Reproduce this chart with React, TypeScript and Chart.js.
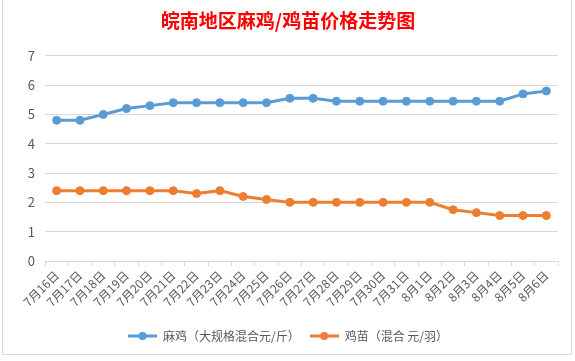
import React, { useEffect, useRef } from "react";
import { Chart, registerables } from "chart.js";

Chart.register(...registerables);

const TITLE = "皖南地区麻鸡/鸡苗价格走势图";
const CATEGORIES = [
  "7月16日", "7月17日", "7月18日", "7月19日", "7月20日", "7月21日", "7月22日", "7月23日",
  "7月24日", "7月25日", "7月26日", "7月27日", "7月28日", "7月29日", "7月30日", "7月31日",
  "8月1日", "8月2日", "8月3日", "8月4日", "8月5日", "8月6日",
];
const SERIES_NAMES = ["麻鸡（大规格混合元/斤）", "鸡苗（混合 元/羽）"];
const MAJI = [4.8, 4.8, 5.0, 5.2, 5.3, 5.4, 5.4, 5.4, 5.4, 5.4, 5.55, 5.55, 5.45, 5.45, 5.45, 5.45, 5.45, 5.45, 5.45, 5.45, 5.7, 5.8];
const JIMIAO = [2.4, 2.4, 2.4, 2.4, 2.4, 2.4, 2.3, 2.4, 2.2, 2.1, 2.0, 2.0, 2.0, 2.0, 2.0, 2.0, 2.0, 1.75, 1.65, 1.55, 1.55, 1.55];
const Y_MIN = 0;
const Y_MAX = 7;
const Y_STEP = 1;

const BLUE = "#5B9BD5";
const ORANGE = "#ED7D31";
const GRID = "#d9d9d9";
const TEXT = "#595959";
const FONT = "'Noto Sans CJK SC', 'Noto Sans', sans-serif";

function makeMarker(color: string): HTMLCanvasElement {
  const c = document.createElement("canvas");
  c.width = 29;
  c.height = 10;
  const ctx = c.getContext("2d")!;
  ctx.strokeStyle = color;
  ctx.lineWidth = 3;
  ctx.beginPath();
  ctx.moveTo(0, 5);
  ctx.lineTo(29, 5);
  ctx.stroke();
  ctx.fillStyle = color;
  ctx.beginPath();
  ctx.arc(14.5, 5, 4, 0, Math.PI * 2);
  ctx.fill();
  return c;
}

export default function App() {
  const ref = useRef<HTMLCanvasElement | null>(null);

  useEffect(() => {
    if (!ref.current) return;
    const markers = [makeMarker(BLUE), makeMarker(ORANGE)];
    const chart = new Chart(ref.current, {
      type: "line",
      data: {
        labels: CATEGORIES,
        datasets: [
          {
            label: SERIES_NAMES[0],
            data: MAJI,
            borderColor: BLUE,
            backgroundColor: BLUE,
            borderWidth: 3,
            pointRadius: 4,
            pointBorderWidth: 1,
            pointBackgroundColor: BLUE,
            pointBorderColor: BLUE,
            tension: 0,
          },
          {
            label: SERIES_NAMES[1],
            data: JIMIAO,
            borderColor: ORANGE,
            backgroundColor: ORANGE,
            borderWidth: 3,
            pointRadius: 4,
            pointBorderWidth: 1,
            pointBackgroundColor: ORANGE,
            pointBorderColor: ORANGE,
            tension: 0,
          },
        ],
      },
      options: {
        responsive: false,
        animation: false,
        devicePixelRatio: 1,
        layout: { padding: { left: 18, right: 17, top: 0, bottom: 9 } },
        scales: {
          x: {
            type: "category",
            offset: true,
            grid: {
              offset: true,
              drawOnChartArea: false,
              drawTicks: true,
              tickLength: 5,
              color: GRID,
            },
            border: { display: true, color: GRID, width: 1 },
            ticks: {
              autoSkip: false,
              minRotation: 45,
              maxRotation: 45,
              padding: 2,
              color: TEXT,
              font: { family: FONT, size: 12 },
            },
            afterFit: (s: any) => {
              s.height = 59;
            },
          },
          y: {
            min: Y_MIN,
            max: Y_MAX,
            grid: { color: GRID, drawTicks: false, lineWidth: 1 },
            border: { display: false },
            ticks: {
              stepSize: Y_STEP,
              padding: 10,
              color: TEXT,
              font: { family: FONT, size: 13 },
            },
            afterFit: (s: any) => {
              s.width = 27;
            },
          },
        },
        plugins: {
          title: {
            display: true,
            text: TITLE,
            color: "#FF0000",
            font: { family: FONT, size: 19, weight: "bold" },
            padding: { top: 9, bottom: 24 },
          },
          legend: {
            position: "bottom",
            labels: {
              usePointStyle: true,
              pointStyleWidth: 29,
              boxHeight: 10,
              padding: 10,
              color: TEXT,
              font: { family: FONT, size: 12 },
              generateLabels: (ch: any) => {
                const items = Chart.defaults.plugins.legend.labels.generateLabels(ch);
                items.forEach((it: any, i: number) => {
                  it.pointStyle = markers[i];
                });
                return items;
              },
            },
          },
          tooltip: { enabled: false },
        },
      } as any,
    });
    return () => chart.destroy();
  }, []);

  return (
    <div style={{ position: "fixed", left: 0, top: 0, width: 575, height: 361, background: "#fff" }}>
      <div
        style={{
          position: "absolute",
          left: 2,
          top: -1,
          width: 570,
          height: 356,
          border: "1px solid #d9d9d9",
          boxSizing: "border-box",
        }}
      />
      <canvas ref={ref} width={575} height={361} style={{ position: "absolute", left: 0, top: 0, width: 575, height: 361 }} />
    </div>
  );
}
